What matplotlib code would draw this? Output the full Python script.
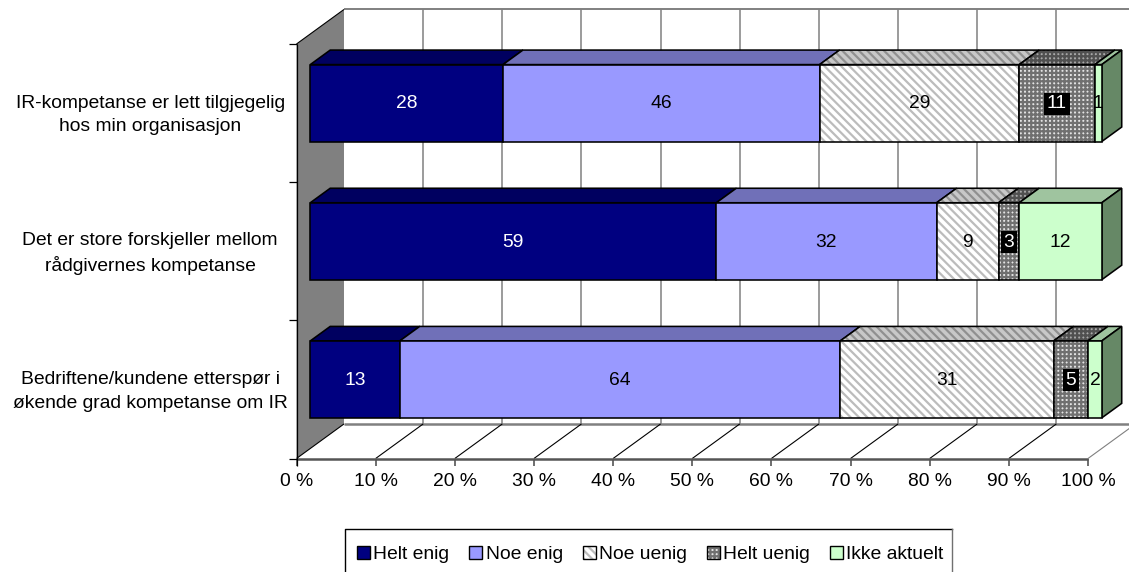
import matplotlib
matplotlib.use("Agg")
import matplotlib.pyplot as plt
from matplotlib.lines import Line2D
from matplotlib.patches import Polygon, Patch
from matplotlib.legend_handler import HandlerTuple

plt.rcParams["font.family"] = ["Liberation Sans", "DejaVu Sans"]
plt.rcParams["hatch.linewidth"] = 1.6

# === data ===
questions = [
    "IR-kompetanse er lett tilgjegelig\nhos min organisasjon",
    "Det er store forskjeller mellom\nrådgivernes kompetanse",
    "Bedriftene/kundene etterspør i\nøkende grad kompetanse om IR",
]
series_names = ["Helt enig", "Noe enig", "Noe uenig", "Helt uenig", "Ikke aktuelt"]
helt_enig = [28, 59, 13]
noe_enig = [46, 32, 64]
noe_uenig = [29, 9, 31]
helt_uenig = [11, 3, 5]
ikke_aktuelt = [1, 12, 2]
x_ticks = [0, 10, 20, 30, 40, 50, 60, 70, 80, 90, 100]

# === styles: front face, top face, hatch, hatch colour, top hatch colour ===
styles = [
    dict(front="#000080", top="#000060", hatch=None, hc=None, thc=None),
    dict(front="#9999ff", top="#7070b8", hatch=None, hc=None, thc=None),
    dict(front="#ffffff", top="#c8c8c8", hatch="\\\\\\\\", hc="#bcbcbc", thc="#909090"),
    dict(front="#e4e4e4", top="#a8a8a8", hatch="++++", hc="#707070", thc="#505050"),
    dict(front="#ccffcc", top="#9fc49f", hatch=None, hc=None, thc=None),
]
label_colors = ["white", "black", "black", "white", "black"]
FS = 13.9

W, H = 1129, 572
fig = plt.figure(figsize=(W / 100, H / 100), dpi=100, facecolor="white")
ax = fig.add_axes([296.5 / W, 1 - 458.5 / H, 791.5 / W, 414.5 / H])
ax.set_xlim(0, 100)
ax.set_ylim(3, 0)
ax.axis("off")

# depth of the fake 3D box, in data units
DX = 6.0
DY = 0.25
BAR_H = 0.557
D0, D1 = 0.29, 0.71


def pt(x, y, d=0.0):
    return (x + DX * d, y - DY * d)


def line(a, b, color, lw=1.0, z=1):
    ax.plot([a[0], b[0]], [a[1], b[1]], color=color, lw=lw, zorder=z,
            clip_on=False, solid_capstyle="butt")


def face(points, color, hatch=None, hatch_color=None, z=5, lw=1.15):
    if hatch:
        ax.add_patch(Polygon(points, closed=True, facecolor=color, edgecolor=hatch_color,
                             hatch=hatch, lw=0, zorder=z, clip_on=False))
    else:
        ax.add_patch(Polygon(points, closed=True, facecolor=color, edgecolor="none",
                             zorder=z, clip_on=False))
    ax.add_patch(Polygon(points, closed=True, fill=False, edgecolor="black",
                         lw=lw, zorder=z + 0.1, clip_on=False, joinstyle="miter"))


# === back wall and floor ===
ax.add_patch(Polygon([pt(0, 0), pt(0, 0, 1), pt(0, 3, 1), pt(0, 3)], closed=True,
                     facecolor="#808080", edgecolor="none", zorder=1, clip_on=False))
line(pt(0, 0), pt(0, 0, 1), "black", 0.8, 2)
line(pt(0, 0, 1), pt(103, 0, 1), "#808080", 1.4, 1)
line(pt(0, 3, 1), pt(103, 3, 1), "#808080", 1.8, 1)
for t in x_ticks:
    if t > 0:
        line(pt(t, 0, 1), pt(t, 3, 1), "#808080", 1.1, 1)
    line(pt(t, 3), pt(t, 3, 1), "#808080" if t == 100 else "black", 0.8, 2)
    line((t, 3), (t, 3.055), "#555555", 1.2, 3)
    ax.text(t, 3.17, f"{t} %", ha="center", va="center", fontsize=FS)
line((0, 0), (0, 3.055), "black", 0.9, 4)
line((0, 3), (100, 3), "#555555", 1.8, 3)
for i in range(4):
    line((-1.0, i), (0, i), "black", 0.9, 3)

# === bars ===
rows = list(zip(helt_enig, noe_enig, noe_uenig, helt_uenig, ikke_aktuelt))
for r, values in enumerate(rows):
    total = sum(values)
    yc = r + 0.5
    y0, y1 = yc - BAR_H / 2, yc + BAR_H / 2
    left = 0.0
    for s, v in enumerate(values):
        right = left + v / total * 100
        st = styles[s]
        face([pt(left, y0, D0), pt(left, y0, D1), pt(right, y0, D1), pt(right, y0, D0)],
             st["top"], st["hatch"], st["thc"], z=5 + s * 0.2)
        face([pt(left, y0, D0), pt(right, y0, D0), pt(right, y1, D0), pt(left, y1, D0)],
             st["front"], st["hatch"], st["hc"], z=6 + s * 0.2)
        if s == len(values) - 1:
            face([pt(right, y0, D0), pt(right, y0, D1), pt(right, y1, D1), pt(right, y1, D0)],
                 "#668866", z=6)
        tx, ty = pt((left + right) / 2, yc + 0.006, D0)
        box = dict(facecolor="black", edgecolor="none", pad=2.0) if s == 3 else None
        ax.text(tx, ty, str(v), ha="center", va="center", fontsize=FS,
                color=label_colors[s], bbox=box, zorder=9)
        left = right

# === category labels ===
for r, q in enumerate(questions):
    ax.text(-18.5, r + 0.515, q, ha="center", va="center", fontsize=FS, linespacing=1.5)

# === legend ===
handles = []
for st in styles:
    fill = Patch(facecolor=st["front"], edgecolor=st["hc"] if st["hatch"] else "none",
                 hatch=st["hatch"], lw=0)
    outline = Patch(fill=False, edgecolor="black", lw=1.0)
    handles.append((fill, outline))
leg = fig.legend(handles, series_names, ncol=5, loc="upper left",
                 bbox_to_anchor=(344.5 / W, 1 - 533.5 / H), borderaxespad=0,
                 frameon=False, fontsize=FS,
                 handlelength=0.68, handleheight=0.68, handletextpad=0.17,
                 columnspacing=1.03, borderpad=0.65,
                 handler_map={tuple: HandlerTuple(ndivide=1, pad=0)})

# legend box runs off the bottom of the picture, so draw its three visible sides
box_l, box_r, box_t = 345.3 / W, 951.7 / W, 1 - 529.3 / H
fig.add_artist(Line2D([box_l, box_l, box_r], [0, box_t, box_t], color="black", lw=1.0,
                      transform=fig.transFigure))
fig.add_artist(Line2D([box_r, box_r], [box_t, 0], color="#707070", lw=1.0,
                      transform=fig.transFigure))

fig.savefig("out.png", dpi=100)
